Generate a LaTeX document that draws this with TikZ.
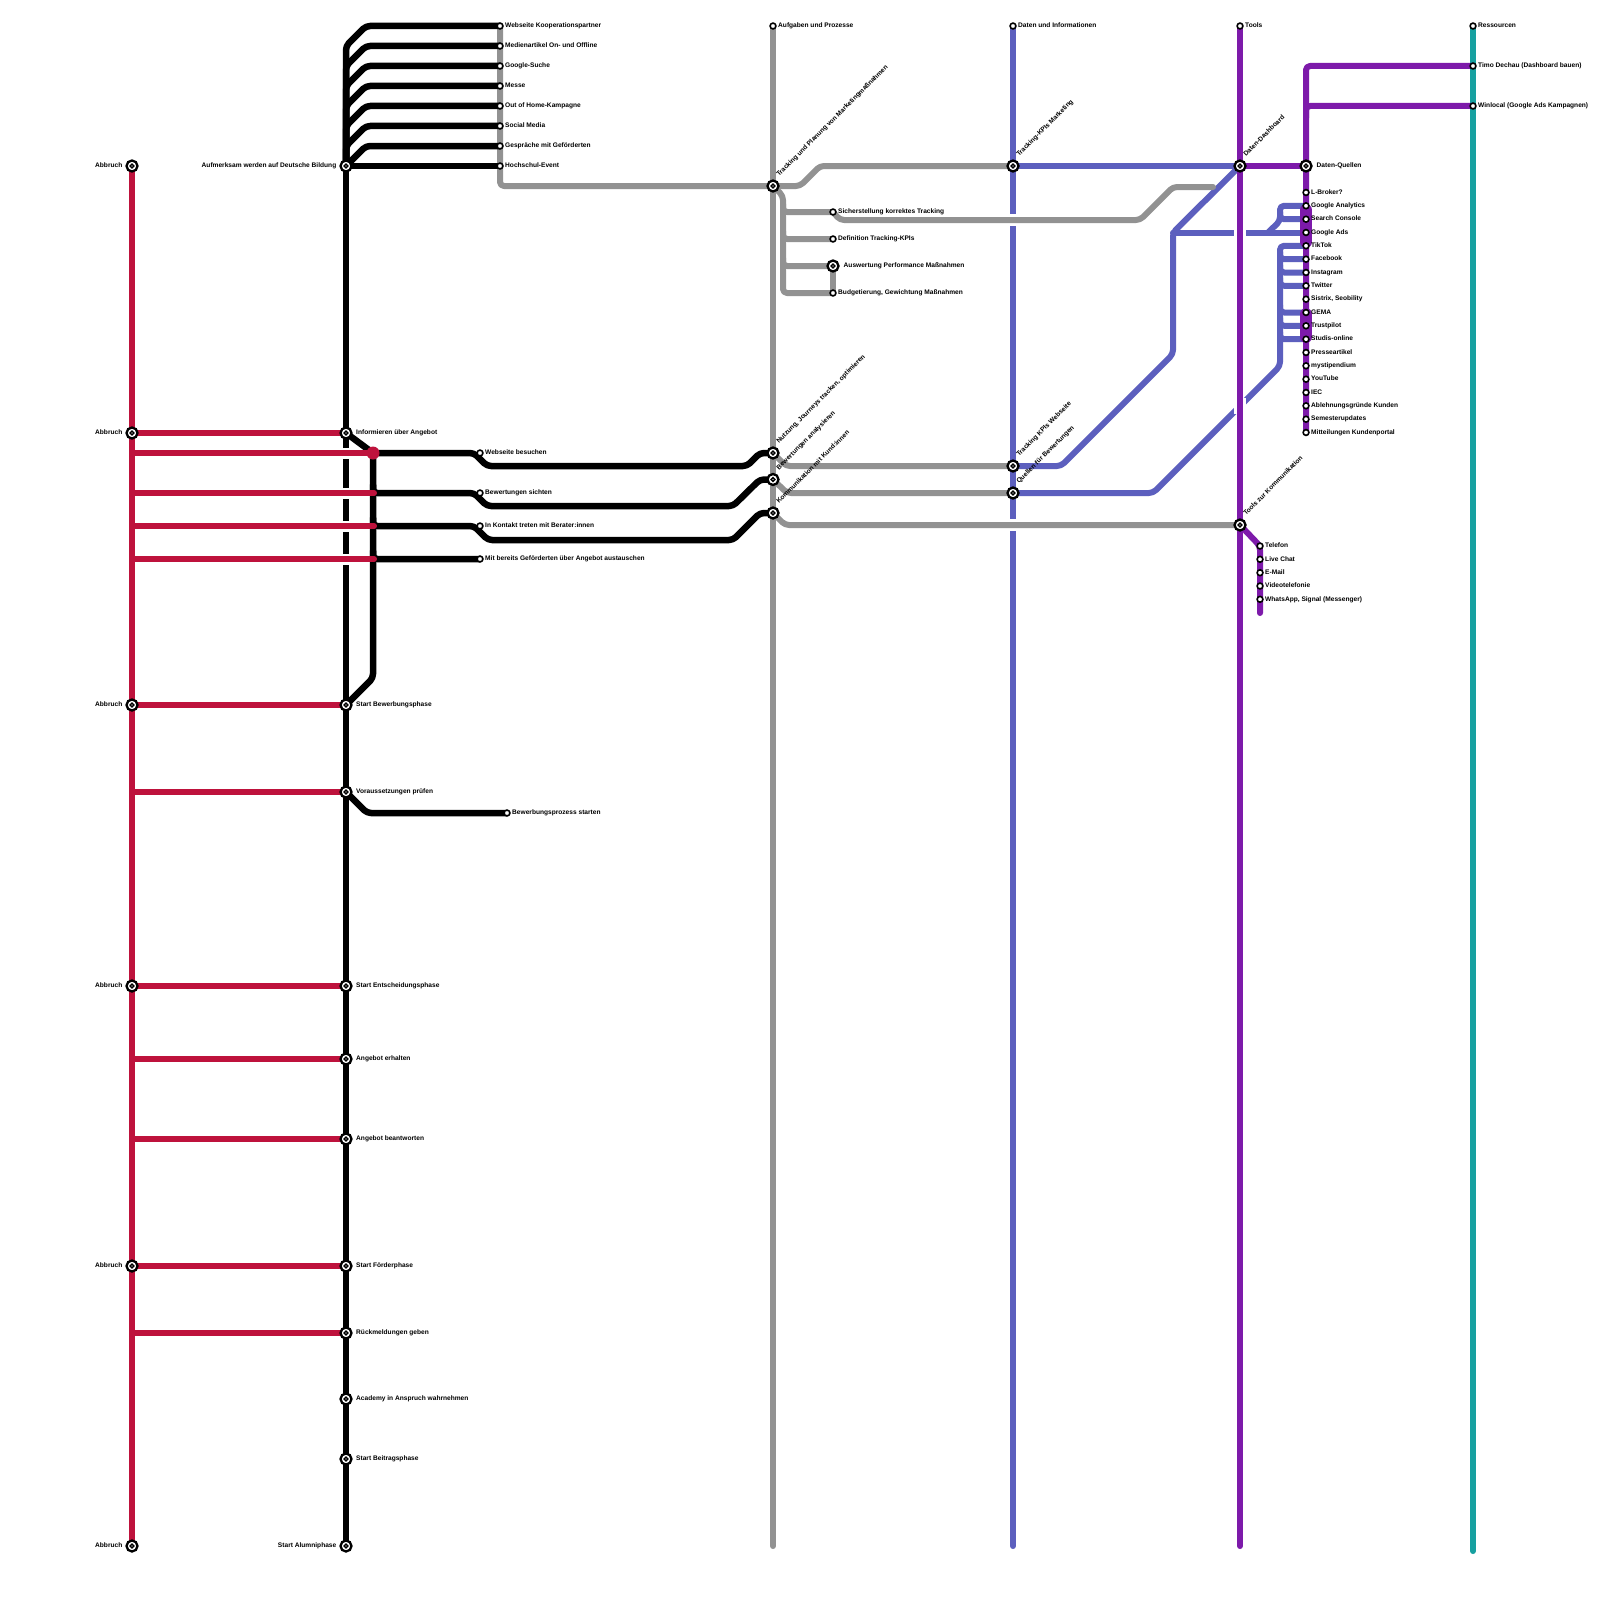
\documentclass[tikz,border=0pt]{standalone}
\usepackage{fontspec}
\setmainfont{Liberation Sans}
\usetikzlibrary{calc}
\definecolor{cred}{RGB}{190,18,60}
\definecolor{cgrey}{RGB}{146,146,146}
\definecolor{cblue}{RGB}{92,95,190}
\definecolor{cpurple}{RGB}{125,26,170}
\definecolor{cteal}{RGB}{22,160,160}
\begin{document}
\begin{tikzpicture}[x=1pt,y=-1pt,
  ln/.style={line width=6pt,line cap=round,line join=round,rounded corners=4pt},
  redL/.style={ln,draw=cred},
  greyL/.style={ln,draw=cgrey},
  blueL/.style={ln,draw=cblue},
  purpleL/.style={ln,draw=cpurple},
  tealL/.style={ln,draw=cteal},
  blackL/.style={ln,draw=black,line width=6.5pt},
  gap/.style={draw=white,line width=12pt},
  st/.style={circle,draw=black,fill=white,line width=1.6pt,minimum size=5.8pt,inner sep=0pt},
  ic/.style={circle,draw=black,fill=white,line width=2.3pt,minimum size=11pt,inner sep=0pt,
    path picture={\draw[line width=1.5pt] (path picture bounding box.center) circle[radius=1.9pt];}},
  lb/.style={font=\fontsize{6.6}{7}\selectfont\bfseries,inner sep=0pt,text=black,text height=4.8pt,text depth=1.4pt},
  lr/.style={lb,anchor=west},
  ll/.style={lb,anchor=east},
  rl/.style={lb,anchor=south west,rotate=45}]
\fill[white] (0,0) rectangle (1600,1600);
\useasboundingbox (0,0) rectangle (1600,1600);

% ---------- coordinates ----------
\coordinate (a1) at (132,166);
\coordinate (a2) at (132,433);
\coordinate (a3) at (132,705);
\coordinate (a4) at (132,986);
\coordinate (a5) at (132,1266);
\coordinate (a6) at (132,1546);
\coordinate (b1) at (346,166);
\coordinate (b2) at (346,433);
\coordinate (b3) at (346,705);
\coordinate (b4) at (346,792);
\coordinate (b5) at (346,986);
\coordinate (b6) at (346,1059);
\coordinate (b7) at (346,1139);
\coordinate (b8) at (346,1266);
\coordinate (b9) at (346,1333);
\coordinate (b10) at (346,1399);
\coordinate (b11) at (346,1459);
\coordinate (b12) at (346,1546);
\coordinate (t1) at (500,26);
\coordinate (t2) at (500,46);
\coordinate (t3) at (500,66);
\coordinate (t4) at (500,86);
\coordinate (t5) at (500,106);
\coordinate (t6) at (500,126);
\coordinate (t7) at (500,146);
\coordinate (t8) at (500,166);
\coordinate (rd) at (373,453);
\coordinate (m1) at (480,453);
\coordinate (m2) at (480,493);
\coordinate (m3) at (480,526);
\coordinate (m4) at (480,559);
\coordinate (m5) at (507,813);
\coordinate (g0) at (773,26);
\coordinate (g1) at (773,186);
\coordinate (g2) at (773,453);
\coordinate (g3) at (773,479.5);
\coordinate (g4) at (773,513);
\coordinate (gE) at (773,1546);
\coordinate (gS) at (1213,187);
\coordinate (s1) at (833,212);
\coordinate (s2) at (833,239);
\coordinate (s3) at (833,266);
\coordinate (s4) at (833,293);
\coordinate (d0) at (1013,26);
\coordinate (d1) at (1013,166);
\coordinate (d2) at (1013,466);
\coordinate (d3) at (1013,493);
\coordinate (dE) at (1013,1546);
\coordinate (p0) at (1240,26);
\coordinate (p1) at (1240,166);
\coordinate (p2) at (1240,525);
\coordinate (pE) at (1240,1546);
\coordinate (q0) at (1306,166);
\coordinate (q1) at (1306,192.5);
\coordinate (q2) at (1306,205.8);
\coordinate (q3) at (1306,219.2);
\coordinate (q4) at (1306,232.5);
\coordinate (q5) at (1306,245.8);
\coordinate (q6) at (1306,259.2);
\coordinate (q7) at (1306,272.5);
\coordinate (q8) at (1306,285.8);
\coordinate (q9) at (1306,299.2);
\coordinate (q10) at (1306,312.5);
\coordinate (q11) at (1306,325.8);
\coordinate (q12) at (1306,339.2);
\coordinate (q13) at (1306,352.5);
\coordinate (q14) at (1306,365.8);
\coordinate (q15) at (1306,379.2);
\coordinate (q16) at (1306,392.5);
\coordinate (q17) at (1306,405.8);
\coordinate (q18) at (1306,419.2);
\coordinate (q19) at (1306,432.5);
\coordinate (k1) at (1260,546);
\coordinate (k2) at (1260,559.3);
\coordinate (k3) at (1260,572.7);
\coordinate (k4) at (1260,586);
\coordinate (k5) at (1260,599.3);
\coordinate (kE) at (1260,613);
\coordinate (r0) at (1473,26);
\coordinate (r1) at (1473,66);
\coordinate (r2) at (1473,106);
\coordinate (rE) at (1473,1551);

% ---------- teal ----------
\draw[tealL] (r0) -- (rE);

% ---------- blue ----------
\draw[blueL] (d0) -- (dE);
\draw[blueL] (d1) -- (p1);
\draw[blueL] (d2) -- (1061,466) -- (1173,354) -- (1173,232.5) -- (p1);
\draw[blueL] (1173,232.5) -- (q4);
\draw[blueL] (1268,232.5) -- (1280,221) -- (1280,205.8) -- (q2);
\draw[blueL] (1280,212) -- (1280,219.2) -- (q3);
\draw[blueL] (d3) -- (1153,493) -- (1280,366) -- (1280,245.8) -- (q5);
\draw[blueL] (1280,252) -- (1280,259.2) -- (q6);
\draw[blueL] (1280,265) -- (1280,272.5) -- (q7);
\draw[blueL] (1280,278) -- (1280,285.8) -- (q8);
\draw[blueL] (1280,305) -- (1280,312.5) -- (q10);
\draw[blueL] (1280,318) -- (1280,325.8) -- (q11);
\draw[blueL] (1280,332) -- (1280,339.2) -- (q12);

% gaps in blue for purple and grey crossings
\draw[gap] (1240,227) -- (1240,238);
\draw[gap] (1240,398) -- (1240,414);
\draw[gap] (1007,220) -- (1019,220);
\draw[gap] (1007,525) -- (1019,525);

% ---------- purple ----------
\draw[purpleL] (p0) -- (pE);
\draw[purpleL] (p1) -- (q0);
\draw[purpleL] (q19) -- (1306,66) -- (r1);
\draw[purpleL] (1306,118) -- (1306,106) -- (r2);
\draw[cpurple,line width=12pt,line cap=round] (1306,210) -- (1306,242);
\draw[cpurple,line width=12pt,line cap=round] (1306,314) -- (1306,337);
\draw[purpleL] (p2) -- (k1) -- (kE);

% ---------- grey ----------
\draw[greyL] (g0) -- (gE);
\draw[greyL] (t1) -- (500,186) -- (g1);
\draw[greyL] (g1) -- (800,186) -- (820,166) -- (d1);
\draw[greyL] (g1) -- (783,196) -- (783,293) -- (s4);
\draw[greyL] (783,204) -- (783,212) -- (s1);
\draw[greyL] (783,231) -- (783,239) -- (s2);
\draw[greyL] (783,258) -- (783,266) -- (s3);
\draw[greyL] (s3) -- (s4);
\draw[greyL] (s1) -- (840,220) -- (1140,220) -- (1173,187) -- (gS);
\draw[greyL] (g2) -- (786,466) -- (d2);
\draw[greyL] (g3) -- (787,493) -- (d3);
\draw[greyL] (g4) -- (785,525) -- (p2);

% ---------- black ----------
\draw[blackL] (b1) -- (b12);
\draw[blackL] (b1) -- (346,46) -- (366,26) -- (t1);
\draw[blackL] (b1) -- (346,66) -- (366,46) -- (t2);
\draw[blackL] (b1) -- (346,86) -- (366,66) -- (t3);
\draw[blackL] (b1) -- (346,106) -- (366,86) -- (t4);
\draw[blackL] (b1) -- (346,126) -- (366,106) -- (t5);
\draw[blackL] (b1) -- (346,146) -- (366,126) -- (t6);
\draw[blackL] (b1) -- (366,146) -- (t7);
\draw[blackL] (b1) -- (t8);
\draw[blackL] (b2) -- (rd) -- (373,678) -- (b3);
\draw[blackL] (rd) -- (474,453) -- (487,466) -- (747,466) -- (760,453) -- (g2);
\draw[blackL] (373,485) -- (373,493) -- (474,493) -- (487,506) -- (733,506) -- (760,479.5) -- (g3);
\draw[blackL] (373,518) -- (373,526) -- (474,526) -- (488,540) -- (733,540) -- (760,513) -- (g4);
\draw[blackL] (373,551) -- (373,559) -- (m4);
\draw[blackL] (b4) -- (367,813) -- (m5);

% ---------- red ----------
\foreach \yy in {453,493,526,559} {\draw[white,line width=11pt] (341,\yy) -- (351,\yy);}
\draw[redL] (a1) -- (a6);
\draw[redL] (a2) -- (b2);
\draw[redL] (a3) -- (b3);
\draw[redL] (a4) -- (b5);
\draw[redL] (a5) -- (b8);
\draw[redL] (132,453) -- (rd);
\draw[redL] (132,493) -- (374,493);
\draw[redL] (132,526) -- (374,526);
\draw[redL] (132,559) -- (374,559);
\draw[redL] (132,792) -- (b4);
\draw[redL] (132,1059) -- (b6);
\draw[redL] (132,1139) -- (b7);
\draw[redL] (132,1333) -- (b9);
\node[circle,fill=cred,minimum size=13pt,inner sep=0pt] (rdot) at (rd) {};

% ---------- stations ----------
\foreach \n in {a1,a2,a3,a4,a5,a6,b1,b2,b3,b4,b5,b6,b7,b8,b9,b10,b11,b12,g1,g2,g3,g4,s3,d1,d2,d3,p1,p2,q0}
  {\node[ic] (S-\n) at (\n) {};}
\foreach \n in {t1,t2,t3,t4,t5,t6,t7,t8,m1,m2,m3,m4,m5,g0,s1,s2,s4,d0,p0,r0,r1,r2,q1,q2,q3,q4,q5,q6,q7,q8,q9,q10,q11,q12,q13,q14,q15,q16,q17,q18,q19,k1,k2,k3,k4,k5}
  {\node[st] (S-\n) at (\n) {};}

% ---------- labels ----------
\foreach \n in {a1,a2,a3,a4,a5,a6} {\node[ll] (L-\n) at ($(\n)+(-9.5,0)$) {Abbruch};}
\node[ll] (L-b1) at ($(b1)+(-9.5,0)$) {Aufmerksam werden auf Deutsche Bildung};
\node[ll] (L-b12) at ($(b12)+(-9.5,0)$) {Start Alumniphase};
\node[lr] (L-b2) at ($(b2)+(10,0)$) {Informieren über Angebot};
\node[lr] (L-b3) at ($(b3)+(10,0)$) {Start Bewerbungsphase};
\node[lr] (L-b4) at ($(b4)+(10,0)$) {Voraussetzungen prüfen};
\node[lr] (L-b5) at ($(b5)+(10,0)$) {Start Entscheidungsphase};
\node[lr] (L-b6) at ($(b6)+(10,0)$) {Angebot erhalten};
\node[lr] (L-b7) at ($(b7)+(10,0)$) {Angebot beantworten};
\node[lr] (L-b8) at ($(b8)+(10,0)$) {Start Förderphase};
\node[lr] (L-b9) at ($(b9)+(10,0)$) {Rückmeldungen geben};
\node[lr] (L-b10) at ($(b10)+(10,0)$) {Academy in Anspruch wahrnehmen};
\node[lr] (L-b11) at ($(b11)+(10,0)$) {Start Beitragsphase};

\node[lr] (L-t1) at ($(t1)+(5,0)$) {Webseite Kooperationspartner};
\node[lr] (L-t2) at ($(t2)+(5,0)$) {Medienartikel On- und Offline};
\node[lr] (L-t3) at ($(t3)+(5,0)$) {Google-Suche};
\node[lr] (L-t4) at ($(t4)+(5,0)$) {Messe};
\node[lr] (L-t5) at ($(t5)+(5,0)$) {Out of Home-Kampagne};
\node[lr] (L-t6) at ($(t6)+(5,0)$) {Social Media};
\node[lr] (L-t7) at ($(t7)+(5,0)$) {Gespräche mit Geförderten};
\node[lr] (L-t8) at ($(t8)+(5,0)$) {Hochschul-Event};

\node[lr] (L-m1) at ($(m1)+(5,0)$) {Webseite besuchen};
\node[lr] (L-m2) at ($(m2)+(5,0)$) {Bewertungen sichten};
\node[lr] (L-m3) at ($(m3)+(5,0)$) {In Kontakt treten mit Berater:innen};
\node[lr] (L-m4) at ($(m4)+(5,0)$) {Mit bereits Geförderten über Angebot austauschen};
\node[lr] (L-m5) at ($(m5)+(5,0)$) {Bewerbungsprozess starten};

\node[lr] (L-g0) at ($(g0)+(5,0)$) {Aufgaben und Prozesse};
\node[lr] (L-d0) at ($(d0)+(5,0)$) {Daten und Informationen};
\node[lr] (L-p0) at ($(p0)+(5,0)$) {Tools};
\node[lr] (L-r0) at ($(r0)+(5,0)$) {Ressourcen};
\node[lr] (L-r1) at ($(r1)+(5,0)$) {Timo Dechau (Dashboard bauen)};
\node[lr] (L-r2) at ($(r2)+(5,0)$) {Winlocal (Google Ads Kampagnen)};

\node[lr] (L-s1) at ($(s1)+(5,0)$) {Sicherstellung korrektes Tracking};
\node[lr] (L-s2) at ($(s2)+(5,0)$) {Definition Tracking-KPIs};
\node[lr] (L-s3) at ($(s3)+(10.5,0)$) {Auswertung Performance Maßnahmen};
\node[lr] (L-s4) at ($(s4)+(5,0)$) {Budgetierung, Gewichtung Maßnahmen};

\node[rl] (L-g1) at ($(g1)+(7,-8)$) {Tracking und Planung von Marketingmaßnahmen};
\node[rl] (L-g2) at ($(g2)+(7,-8)$) {Nutzung, Journeys tracken, optimieren};
\node[rl] (L-g3) at ($(g3)+(7,-8)$) {Bewertungen analysieren};
\node[rl] (L-g4) at ($(g4)+(7,-8)$) {Kommunikation mit Kund:innen};
\node[rl] (L-d1) at ($(d1)+(7,-8)$) {Tracking-KPIs Marketing};
\node[rl] (L-d2) at ($(d2)+(7,-8)$) {Tracking KPIs Webseite};
\node[rl] (L-d3) at ($(d3)+(7,-8)$) {Quellen für Bewertungen};
\node[rl] (L-p1) at ($(p1)+(7,-8)$) {Daten-Dashboard};
\node[rl] (L-p2) at ($(p2)+(7,-8)$) {Tools zur Kommunikation};

\node[lr] (L-q0) at ($(q0)+(10.5,0)$) {Daten-Quellen};
\node[lr] (L-q1) at ($(q1)+(5,0)$) {L-Broker?};
\node[lr] (L-q2) at ($(q2)+(5,0)$) {Google Analytics};
\node[lr] (L-q3) at ($(q3)+(5,0)$) {Search Console};
\node[lr] (L-q4) at ($(q4)+(5,0)$) {Google Ads};
\node[lr] (L-q5) at ($(q5)+(5,0)$) {TikTok};
\node[lr] (L-q6) at ($(q6)+(5,0)$) {Facebook};
\node[lr] (L-q7) at ($(q7)+(5,0)$) {Instagram};
\node[lr] (L-q8) at ($(q8)+(5,0)$) {Twitter};
\node[lr] (L-q9) at ($(q9)+(5,0)$) {Sistrix, Seobility};
\node[lr] (L-q10) at ($(q10)+(5,0)$) {GEMA};
\node[lr] (L-q11) at ($(q11)+(5,0)$) {Trustpilot};
\node[lr] (L-q12) at ($(q12)+(5,0)$) {Studis-online};
\node[lr] (L-q13) at ($(q13)+(5,0)$) {Presseartikel};
\node[lr] (L-q14) at ($(q14)+(5,0)$) {mystipendium};
\node[lr] (L-q15) at ($(q15)+(5,0)$) {YouTube};
\node[lr] (L-q16) at ($(q16)+(5,0)$) {IEC};
\node[lr] (L-q17) at ($(q17)+(5,0)$) {Ablehnungsgründe Kunden};
\node[lr] (L-q18) at ($(q18)+(5,0)$) {Semesterupdates};
\node[lr] (L-q19) at ($(q19)+(5,0)$) {Mitteilungen Kundenportal};

\node[lr] (L-k1) at ($(k1)+(5,0)$) {Telefon};
\node[lr] (L-k2) at ($(k2)+(5,0)$) {Live Chat};
\node[lr] (L-k3) at ($(k3)+(5,0)$) {E-Mail};
\node[lr] (L-k4) at ($(k4)+(5,0)$) {Videotelefonie};
\node[lr] (L-k5) at ($(k5)+(5,0)$) {WhatsApp, Signal (Messenger)};
\end{tikzpicture}
\end{document}
